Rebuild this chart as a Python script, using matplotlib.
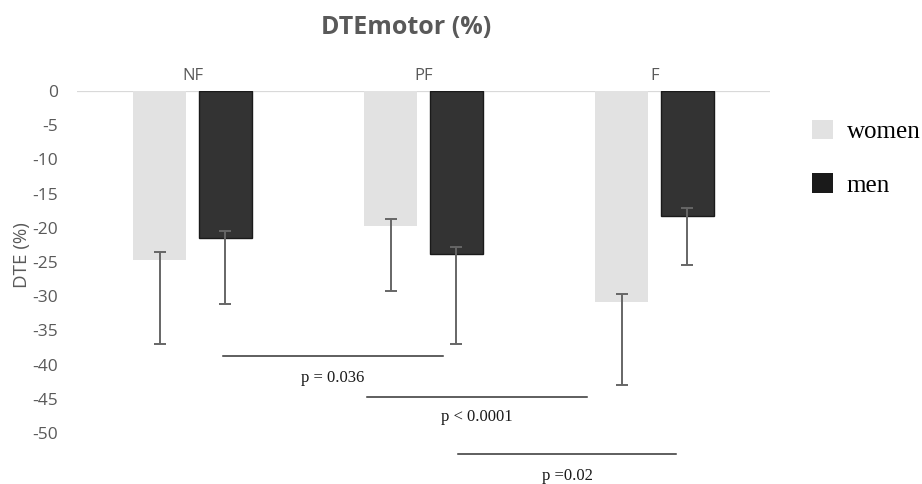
import numpy as np
import matplotlib
matplotlib.use("Agg")
import matplotlib.pyplot as plt
from matplotlib.patches import Patch

# values (DTE %, negative)
categories = ["NF", "PF", "F"]
women = [-24.7, -19.8, -30.8]
men = [-21.5, -23.8, -18.2]
# error bar ends (top, bottom)
women_err_top = [-23.5, -18.7, -29.7]
women_err_bot = [-37.0, -29.2, -43.0]
men_err_top = [-20.4, -22.8, -17.1]
men_err_bot = [-31.1, -37.0, -25.4]

# significance annotations: x span (category units), line level, text
p_spans = [(0.13, 1.084), (0.756, 1.706), (1.149, 2.095)]
p_levels = [-38.7, -44.7, -53.1]
p_text_y = [-41.9, -47.6, -56.2]
p_labels = ["p = 0.036", "p < 0.0001", "p =0.02"]

yticks = list(range(0, -55, -5))

WOMEN_C = "#e2e2e2"
MEN_C = "#333333"
GREY_TXT = "#595959"
ERR_C = "#666666"

W, H = 922, 484
fig = plt.figure(figsize=(W / 100, H / 100), dpi=100)
ax = fig.add_axes([77 / W, 1 - 481 / H, (770 - 77) / W, 390 / H])

x = np.arange(len(categories))
bw = 0.229
off = 0.142

ax.bar(x - off, women, bw, color=WOMEN_C, zorder=2)
ax.bar(x + off, men, bw, color=MEN_C, edgecolor="#1a1a1a", linewidth=1, zorder=2)


def err(vals, top, bot):
    vals = np.array(vals)
    return [vals - np.array(bot), np.array(top) - vals]


ax.errorbar(x - off, women, yerr=err(women, women_err_top, women_err_bot),
            fmt="none", ecolor=ERR_C, elinewidth=1.4, capsize=4.5, capthick=1.4, zorder=3)
ax.errorbar(x + off, men, yerr=err(men, men_err_top, men_err_bot),
            fmt="none", ecolor=ERR_C, elinewidth=1.4, capsize=4.5, capthick=1.4, zorder=3)

ax.axhline(0, color="#d9d9d9", lw=1.6, zorder=1)

for (x0, x1), ly, ty, lab in zip(p_spans, p_levels, p_text_y, p_labels):
    ax.plot([x0, x1], [ly, ly], color="#333333", lw=1.1, clip_on=False)
    ax.text((x0 + x1) / 2, ty, lab, ha="center", va="center",
            family="Liberation Serif", fontsize=12, color="#1a1a1a")

ax.set_xlim(-0.5, 2.5)
ax.set_ylim(-57, 0)
ax.set_yticks(yticks)
ax.set_yticklabels([str(t) for t in yticks], family="Open Sans", fontsize=12.5, color=GREY_TXT)
ax.tick_params(axis="y", length=0, pad=13.5)
ax.xaxis.tick_top()
ax.set_xticks(x)
ax.set_xticklabels(categories, family="Open Sans", fontsize=12, color=GREY_TXT)
ax.tick_params(axis="x", length=0, pad=5)
for s in ax.spines.values():
    s.set_visible(False)

fig.text(22 / W, 1 - 255 / H, "DTE (%)", rotation=90, ha="center", va="center",
         family="Open Sans", fontsize=13.5, color=GREY_TXT)
fig.text(406 / W, 1 - 27 / H, "DTEmotor (%)", ha="center", va="center",
         family="Open Sans", fontweight="bold", fontsize=18, color=GREY_TXT)

handles = [Patch(facecolor=WOMEN_C, edgecolor="none"), Patch(facecolor="#1a1a1a", edgecolor="none")]
fig.legend(handles, ["women", "men"], loc="upper left",
           bbox_to_anchor=(789 / W, 1 - 97 / H), frameon=False,
           prop={"family": "Liberation Serif", "size": 18},
           handlelength=0.85, handleheight=0.85, handletextpad=0.55, labelspacing=1.2)

fig.savefig("out.png", dpi=100)
